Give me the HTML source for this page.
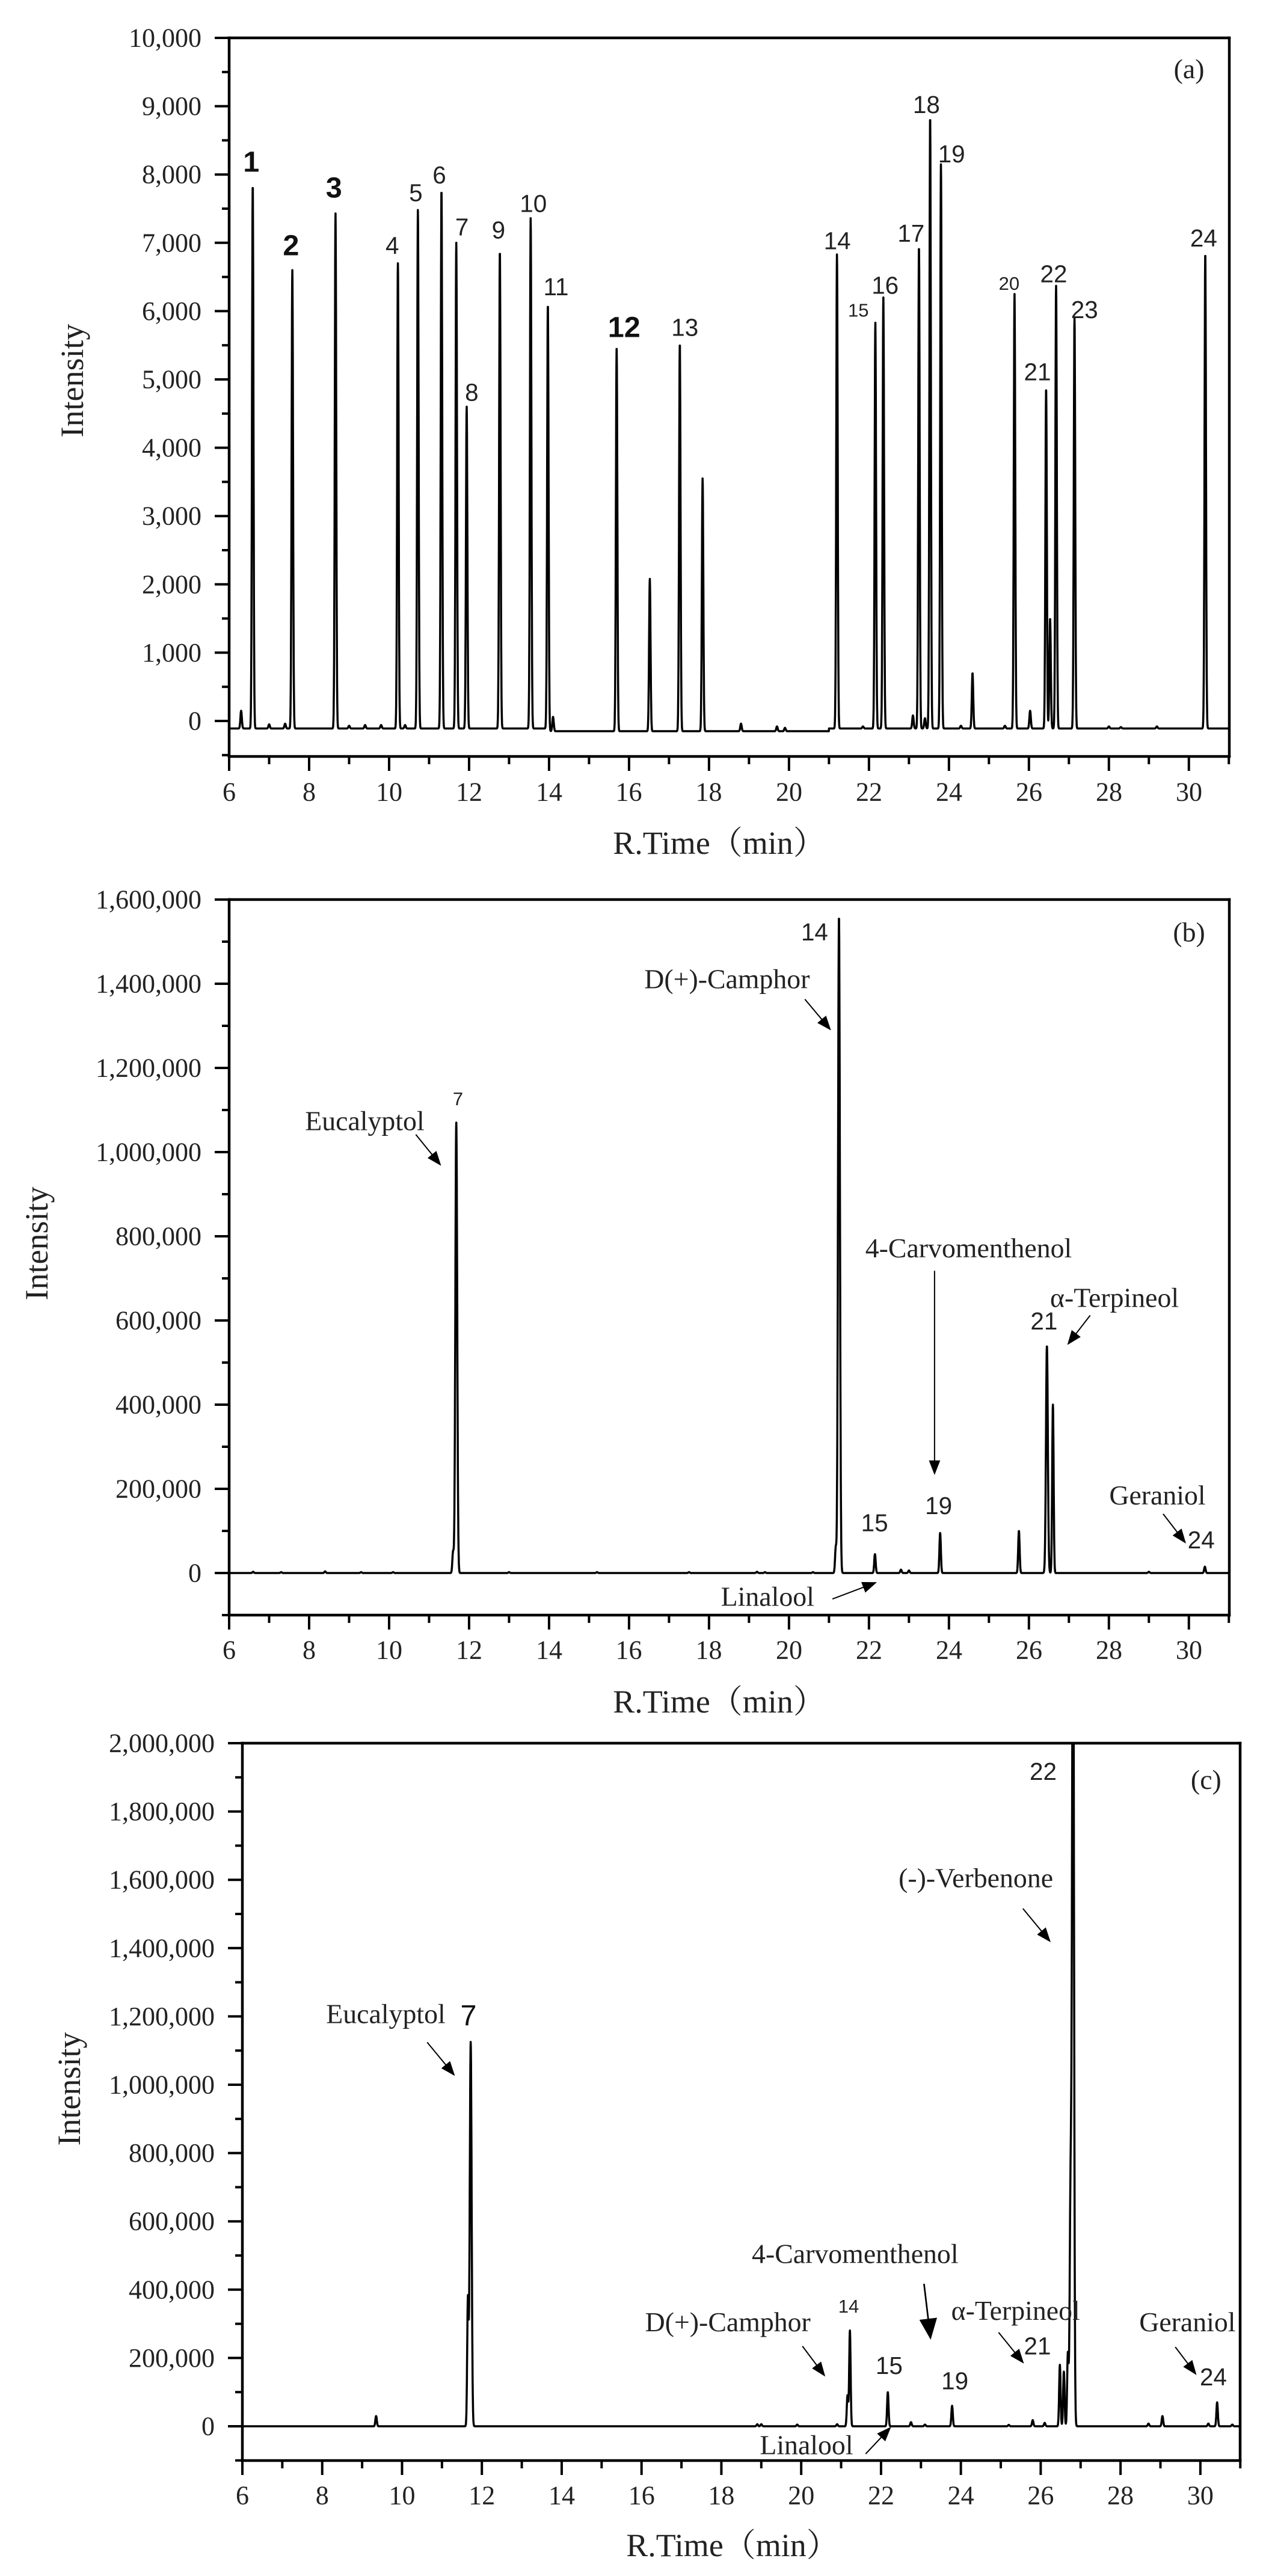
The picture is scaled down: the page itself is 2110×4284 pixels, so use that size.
<!DOCTYPE html>
<html><head><meta charset="utf-8"><style>
html,body{margin:0;padding:0;background:#fff;}
svg{display:block;}
.tk{font-family:"Liberation Serif",serif;font-size:44px;fill:#222;}
.xl{font-family:"Liberation Serif","Noto Serif CJK SC",serif;font-size:54px;fill:#222;}
.sf{font-family:"Liberation Serif",serif;font-size:34px;fill:#222;}
.ss{font-family:"Liberation Sans",sans-serif;font-size:30px;fill:#222;}
.sb{font-family:"Liberation Sans",sans-serif;font-size:36px;fill:#111;font-weight:bold;}
.sm{font-family:"Liberation Sans",sans-serif;font-size:23px;fill:#222;}
</style></head><body>
<svg id="s" width="2110" height="4284" viewBox="0 0 2110 4284" xmlns="http://www.w3.org/2000/svg">
<defs>
<marker id="ah" markerWidth="18" markerHeight="14" refX="16" refY="7" orient="auto" markerUnits="userSpaceOnUse"><path d="M0,0 L18,7 L0,14 Z" fill="#000"/></marker>
<marker id="ah2" markerWidth="26" markerHeight="22" refX="24" refY="11" orient="auto" markerUnits="userSpaceOnUse"><path d="M0,0 L26,11 L0,22 Z" fill="#000"/></marker>
<clipPath id="ca"><rect x="381" y="63" width="1663" height="1195"/></clipPath>
<clipPath id="cb"><rect x="381" y="1496" width="1663" height="1190"/></clipPath>
<clipPath id="cc"><rect x="403" y="2899" width="1659" height="1193"/></clipPath>
</defs>
<g id="axes" stroke="#000" fill="none"></g>
<path id="pa" clip-path="url(#ca)" fill="none" stroke="#000" stroke-width="3.5" stroke-linejoin="round"/>
<path id="pb" clip-path="url(#cb)" fill="none" stroke="#000" stroke-width="3.5" stroke-linejoin="round"/>
<path id="pc" clip-path="url(#cc)" fill="none" stroke="#000" stroke-width="3.5" stroke-linejoin="round"/>

<g class="tk" text-anchor="end" dominant-baseline="central">
<text x="335" y="63">10,000</text><text x="335" y="176.6">9,000</text><text x="335" y="290.2">8,000</text><text x="335" y="403.8">7,000</text><text x="335" y="517.4">6,000</text><text x="335" y="631">5,000</text><text x="335" y="744.6">4,000</text><text x="335" y="858.2">3,000</text><text x="335" y="971.8">2,000</text><text x="335" y="1085.4">1,000</text><text x="335" y="1199">0</text>
<text x="335" y="1496">1,600,000</text><text x="335" y="1636">1,400,000</text><text x="335" y="1776">1,200,000</text><text x="335" y="1916">1,000,000</text><text x="335" y="2056">800,000</text><text x="335" y="2196">600,000</text><text x="335" y="2336">400,000</text><text x="335" y="2476">200,000</text><text x="335" y="2616">0</text>
<text x="357" y="2899">2,000,000</text><text x="357" y="3012.6">1,800,000</text><text x="357" y="3126.2">1,600,000</text><text x="357" y="3239.8">1,400,000</text><text x="357" y="3353.4">1,200,000</text><text x="357" y="3467">1,000,000</text><text x="357" y="3580.6">800,000</text><text x="357" y="3694.2">600,000</text><text x="357" y="3807.8">400,000</text><text x="357" y="3921.4">200,000</text><text x="357" y="4035">0</text>
</g>
<g class="tk" text-anchor="middle" dominant-baseline="central">
<text x="381" y="1317">6</text><text x="514" y="1317">8</text><text x="647" y="1317">10</text><text x="780" y="1317">12</text><text x="913" y="1317">14</text><text x="1045.5" y="1317">16</text><text x="1178.5" y="1317">18</text><text x="1312" y="1317">20</text><text x="1445" y="1317">22</text><text x="1578" y="1317">24</text><text x="1711" y="1317">26</text><text x="1844" y="1317">28</text><text x="1977" y="1317">30</text>
<text x="381" y="2744">6</text><text x="514" y="2744">8</text><text x="647" y="2744">10</text><text x="780" y="2744">12</text><text x="913" y="2744">14</text><text x="1045.5" y="2744">16</text><text x="1178.5" y="2744">18</text><text x="1312" y="2744">20</text><text x="1445" y="2744">22</text><text x="1578" y="2744">24</text><text x="1711" y="2744">26</text><text x="1844" y="2744">28</text><text x="1977" y="2744">30</text>
<text x="403" y="4150">6</text><text x="535.7" y="4150">8</text><text x="668.5" y="4150">10</text><text x="801.2" y="4150">12</text><text x="934" y="4150">14</text><text x="1066.7" y="4150">16</text><text x="1199.4" y="4150">18</text><text x="1332.2" y="4150">20</text><text x="1465" y="4150">22</text><text x="1597.6" y="4150">24</text><text x="1730.4" y="4150">26</text><text x="1863" y="4150">28</text><text x="1995.9" y="4150">30</text>
</g>
<g class="xl" text-anchor="middle" dominant-baseline="central">
<text x="1196" y="1402">R.Time（min）</text>
<text x="1196" y="2830">R.Time（min）</text>
<text x="1218" y="4233">R.Time（min）</text>
<text transform="translate(120,633) rotate(-90)">Intensity</text>
<text transform="translate(61,2068) rotate(-90)">Intensity</text>
<text transform="translate(115,3474) rotate(-90)">Intensity</text>
</g>

<g transform="scale(1.3477)" text-anchor="middle" dominant-baseline="central">
<text class="sb" x="310" y="200">1</text><text class="sb" x="359" y="303">2</text><text class="sb" x="412" y="232">3</text><text class="sb" x="770" y="404">12</text>
<text class="ss" x="484" y="303">4</text><text class="ss" x="513" y="238">5</text><text class="ss" x="542" y="216">6</text><text class="ss" x="570" y="280">7</text><text class="ss" x="582" y="484">8</text><text class="ss" x="615" y="284">9</text><text class="ss" x="658" y="251">10</text><text class="ss" x="686" y="354">11</text><text class="ss" x="845" y="404">13</text><text class="ss" x="1033" y="297">14</text><text class="sm" x="1059" y="383">15</text><text class="ss" x="1092" y="352">16</text><text class="ss" x="1124" y="288">17</text><text class="ss" x="1143" y="129">18</text><text class="ss" x="1174" y="190">19</text><text class="sm" x="1245" y="350">20</text><text class="ss" x="1280" y="459">21</text><text class="ss" x="1300" y="338">22</text><text class="ss" x="1338" y="382">23</text><text class="ss" x="1485" y="294">24</text>
<text class="sf" x="1467" y="85">(a)</text>
<text class="ss" x="1005" y="1150">14</text>
<text class="sf" x="1467" y="1150">(b)</text>
<text class="sf" x="897" y="1208">D(+)-Camphor</text>
<line x1="993" y1="1233" x2="1024" y2="1270" stroke="#000" stroke-width="1.5" marker-end="url(#ah)"/>
<text class="sm" x="565" y="1356">7</text>
<text class="sf" x="450" y="1383">Eucalyptol</text>
<line x1="513" y1="1400" x2="543" y2="1437" stroke="#000" stroke-width="1.5" marker-end="url(#ah)"/>
<text class="sf" x="1195" y="1540">4-Carvomenthenol</text>
</g>
<g transform="translate(0,2174) scale(1.3477)" text-anchor="middle" dominant-baseline="central">
<line x1="1153" y1="-45" x2="1153" y2="205" stroke="#000" stroke-width="1.5" marker-end="url(#ah)"/>
<text class="ss" x="1158" y="245">19</text><text class="ss" x="1079" y="266">15</text>
<text class="sf" x="947" y="357">Linalool</text>
<line x1="1027" y1="360" x2="1080" y2="340" stroke="#000" stroke-width="1.5" marker-end="url(#ah)"/>
<text class="ss" x="1288" y="17">21</text>
<text class="sf" x="1375" y="-12">α-Terpineol</text>
<line x1="1345" y1="10" x2="1318" y2="45" stroke="#000" stroke-width="1.5" marker-end="url(#ah)"/>
<text class="sf" x="1428" y="232">Geraniol</text>
<line x1="1435" y1="255" x2="1462" y2="290" stroke="#000" stroke-width="1.5" marker-end="url(#ah)"/>
<text class="ss" x="1482" y="287">24</text>

<text class="ss" x="1287" y="573">22</text>
<text class="sf" x="1488" y="583">(c)</text>
<text class="sf" x="1204" y="704">(-)-Verbenone</text>
<line x1="1262" y1="742" x2="1295" y2="782" stroke="#000" stroke-width="1.5" marker-end="url(#ah)"/>
<text class="sf" x="476" y="872">Eucalyptol</text>
<text class="sb" x="578" y="874" style="font-weight:normal">7</text>
<line x1="527" y1="907" x2="560" y2="947" stroke="#000" stroke-width="1.5" marker-end="url(#ah)"/>
<text class="sf" x="1055" y="1168">4-Carvomenthenol</text>
<line x1="1140" y1="1205" x2="1148" y2="1272" stroke="#000" stroke-width="2" marker-end="url(#ah2)"/>
<text class="sm" x="1047" y="1233">14</text>
<text class="sf" x="1253" y="1238">α-Terpineol</text>
<text class="sf" x="898" y="1252">D(+)-Camphor</text>
<line x1="990" y1="1282" x2="1017" y2="1318" stroke="#000" stroke-width="1.5" marker-end="url(#ah)"/>
<text class="ss" x="1097" y="1306">15</text><text class="ss" x="1178" y="1325">19</text><text class="ss" x="1280" y="1282">21</text>
<line x1="1232" y1="1265" x2="1262" y2="1302" stroke="#000" stroke-width="1.5" marker-end="url(#ah)"/>
<text class="sf" x="1465" y="1252">Geraniol</text>
<line x1="1450" y1="1283" x2="1475" y2="1316" stroke="#000" stroke-width="1.5" marker-end="url(#ah)"/>
<text class="ss" x="1497" y="1320">24</text>
<text class="sf" x="995" y="1404">Linalool</text>
<line x1="1068" y1="1415" x2="1098" y2="1383" stroke="#000" stroke-width="1.5" marker-end="url(#ah)"/>
</g>
</svg>
<script>
(function(){
var P=[
 {x0:381,px:66.49,y0:1199,py:0.1136,top:63,bot:1258,right:2044,ymin:-520,ymaj:1000,id:'pa',
  base:function(t){return (t>14&&t<21)?-150:-110;},
  pk:[[6.3,150],[6.59,7850],[7.0,-50],[7.4,-40],[7.58,6600],[8.66,7430],[9.0,-70],[9.4,-60],[9.8,-60],[10.22,6700],[10.4,-60],[10.72,7480],[11.31,7780],[11.68,7000],[11.94,4600],[12.77,6880],[13.54,7360],[13.97,6100],[14.1,60],[15.69,5480],[16.52,2080],[17.27,5530],[17.84,3550],[18.8,-40],[19.7,-80],[19.9,-100],[21.2,6830],[21.85,-80],[22.16,5830],[22.36,6200],[23.1,80],[23.25,6950],[23.4,40],[23.53,8850],[23.80,8150],[24.3,-70],[24.59,700],[25.4,-70],[25.64,6250],[26.03,150],[26.43,4870],[26.53,1500],[26.68,6370],[27.14,5900],[28.0,-80],[28.3,-90],[29.2,-80],[30.41,6850]]},
 {x0:381,px:66.49,y0:2616,py:140/200000,top:1496,bot:2686,right:2044,ymin:-100000,ymaj:200000,id:'pb',
  base:function(t){return 0;},
  pk:[[6.6,3000],[7.3,2000],[8.4,4000],[9.3,2000],[10.1,2000],[11.68,1070000],[11.6,50000],[13.0,2000],[15.2,2000],[17.5,2000],[19.2,3000],[19.4,2000],[20.6,2000],[21.25,1560000],[21.17,60000],[22.15,45000],[22.8,8000],[23.0,6000],[23.78,95000],[25.75,100000],[26.45,540000],[26.6,400000],[29.0,3000],[30.4,15000]]},
 {x0:403,px:66.37,y0:4035,py:113.6/200000,top:2899,bot:4092,right:2062,ymin:-100000,ymaj:200000,id:'pc',
  base:function(t){return 0;},
  pk:[[9.35,30000],[11.72,1125000],[11.65,370000],[18.9,6000],[19.0,6000],[19.9,5000],[20.9,6000],[21.22,280000],[21.16,90000],[22.17,100000],[22.75,12000],[23.1,5000],[23.78,60000],[25.2,4000],[25.8,18000],[26.1,10000],[26.48,180000],[26.58,160000],[26.68,210000],[26.75,700000],[26.81,2600000],[28.7,8000],[29.05,30000],[30.2,8000],[30.42,70000],[30.8,5000]]}
];
var ax=document.getElementById('axes');
function L(x1,y1,x2,y2,w){var l=document.createElementNS('http://www.w3.org/2000/svg','line');l.setAttribute('x1',x1);l.setAttribute('y1',y1);l.setAttribute('x2',x2);l.setAttribute('y2',y2);l.setAttribute('stroke-width',w);l.setAttribute('stroke','#000');l.setAttribute('stroke-linecap','square');ax.appendChild(l);}
P.forEach(function(p){
 L(p.x0,p.top,p.right,p.top,4.5);L(p.x0,p.bot,p.right,p.bot,4.5);
 L(p.x0,p.top,p.x0,p.bot,4.5);L(p.right,p.top,p.right,p.bot,4.5);
 var half=p.ymaj/2;
 for(var v=p.ymin;v<=p.ymaj*20;v+=half){
   var vv=Math.round(v/half)*half; var y=p.y0-vv*p.py; if(y<p.top-1)break; if(y>p.bot+1)continue;
   var maj=(Math.abs(vv%p.ymaj)<1);
   L(p.x0-(maj?22:10),y,p.x0,y,4);
 }
 for(var t=6;t<=31;t++){var x=p.x0+(t-6)*p.px;L(x,p.bot,x,p.bot+(t%2==0?22:11),4);}
 var d='';var sig=0.018;
 for(var t=6;t<=31;t+=0.004){
   var v=p.base(t);
   for(var i=0;i<p.pk.length;i++){var dt=t-p.pk[i][0];var s=sig*(p.pk[i][1]>500000?1.3:1);if(Math.abs(dt)<0.12)v+=(p.pk[i][1]-p.base(p.pk[i][0]))*Math.exp(-dt*dt/(2*s*s));}
   var x=p.x0+(t-6)*p.px,y=p.y0-v*p.py;
   d+=(d?'L':'M')+x.toFixed(1)+','+y.toFixed(1);
 }
 document.getElementById(p.id).setAttribute('d',d);
});
})();
</script>
</body></html>
